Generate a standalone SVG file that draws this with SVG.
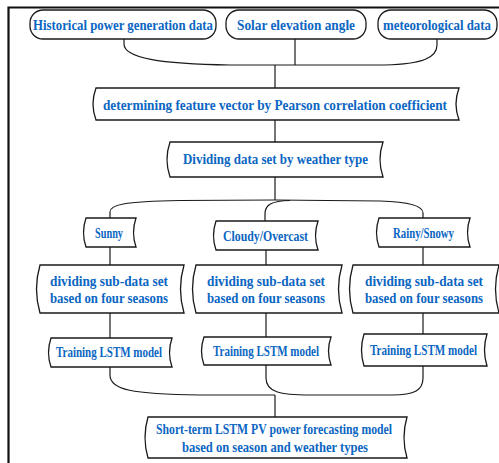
<svg xmlns="http://www.w3.org/2000/svg" width="499" height="463" viewBox="0 0 499 463">
  <style>
    .box { fill: #ffffff; stroke: #1a1a1a; stroke-width: 1.3; }
    .link { fill: none; stroke: #1a1a1a; stroke-width: 1.2; }
    .frame { fill: none; stroke: #111111; stroke-width: 2.2; }
    .lbl { font-family: "Liberation Serif", "DejaVu Serif", serif; font-weight: bold; font-size: 14px; fill: #0b66c2; text-anchor: middle; }
  </style>
  <rect x="0" y="0" width="499" height="463" fill="#ffffff"/>

  <!-- outer frame (top and left edges) -->
  <path class="frame" d="M8.5,463 L8.5,7.5 L499,7.5"/>

  <!-- connectors -->
  <g id="connectors">
    <path class="link" d="M124,39 L124,44 C124,58 160,64 230,65 L295,65"/>
    <path class="link" d="M295,39 L295,65"/>
    <path class="link" d="M437,39 L437,45 C437,58 422,64 385,65 L295,65"/>
    <path class="link" d="M275,65 L275,88"/>
    <path class="link" d="M275,120 L275,142"/>
    <path class="link" d="M275,177 L275,200"/>
    <path class="link" d="M275,200 L180,200.5 C122,201.5 110,205 110,212 L110,218"/>
    <path class="link" d="M265,221 L265,214 C265,205 271,201 290,200.5"/>
    <path class="link" d="M275,200 L380,201 C414,202 423,207 423,213 L423,218"/>
    <path class="link" d="M110,247 L110,265"/>
    <path class="link" d="M110,313 L110,338"/>
    <path class="link" d="M266,250 L266,265"/>
    <path class="link" d="M266,313 L266,337"/>
    <path class="link" d="M423,247 L423,265"/>
    <path class="link" d="M423,313 L423,334"/>
    <path class="link" d="M110,367 L110,375 C110,390 132,394 200,395 L275,395"/>
    <path class="link" d="M266,365 L266,378 C266,392 280,395 310,395 L392,395 C415,395 423,390 423,378 L423,366"/>
    <path class="link" d="M275,395 L275,417"/>
  </g>

  <!-- input data sources -->
  <g id="historical">
    <rect class="box" x="30" y="10" width="186" height="29" rx="13" ry="13"/>
    <text class="lbl" x="123" y="30" textLength="180" lengthAdjust="spacingAndGlyphs">Historical power generation data</text>
  </g>
  <g id="solar">
    <rect class="box" x="226" y="10" width="140" height="29" rx="13" ry="13"/>
    <text class="lbl" x="296" y="30" textLength="118" lengthAdjust="spacingAndGlyphs">Solar elevation angle</text>
  </g>
  <g id="meteo">
    <rect class="box" x="378" y="10" width="119" height="29" rx="13" ry="13"/>
    <text class="lbl" x="437" y="30" textLength="108" lengthAdjust="spacingAndGlyphs">meteorological data</text>
  </g>

  <!-- processing steps (stored-data shapes) -->
  <g id="pearson">
    <path class="box" d="M96,88 L459,88 Q453,104 459,120 L96,120 Q90,104 96,88 Z"/>
    <text class="lbl" x="275" y="110" textLength="344" lengthAdjust="spacingAndGlyphs">determining feature vector by Pearson correlation coefficient</text>
  </g>
  <g id="weather-split">
    <path class="box" d="M170,142 L383,142 Q377,159.5 383,177 L170,177 Q164,159.5 170,142 Z"/>
    <text class="lbl" x="275.5" y="164" textLength="185" lengthAdjust="spacingAndGlyphs">Dividing data set by weather type</text>
  </g>

  <g id="sunny">
    <path class="box" d="M86,218 L136,218 Q131,232.5 136,247 L86,247 Q81,232.5 86,218 Z"/>
    <text class="lbl" x="109" y="238" textLength="28" lengthAdjust="spacingAndGlyphs">Sunny</text>
  </g>
  <g id="cloudy">
    <path class="box" d="M216,221 L318,221 Q313,235.5 318,250 L216,250 Q211,235.5 216,221 Z"/>
    <text class="lbl" x="265.5" y="241" textLength="85" lengthAdjust="spacingAndGlyphs">Cloudy/Overcast</text>
  </g>
  <g id="rainy">
    <path class="box" d="M379,218 L470,218 Q465,232.5 470,247 L379,247 Q374,232.5 379,218 Z"/>
    <text class="lbl" x="423.5" y="238" textLength="61" lengthAdjust="spacingAndGlyphs">Rainy/Snowy</text>
  </g>

  <g id="season-sunny">
    <path class="box" d="M40,265 L184,265 Q177,289 184,313 L40,313 Q33,289 40,265 Z"/>
    <text class="lbl" x="109" y="286" textLength="118" lengthAdjust="spacingAndGlyphs">dividing sub-data set</text>
    <text class="lbl" x="109" y="303" textLength="118" lengthAdjust="spacingAndGlyphs">based on four seasons</text>
  </g>
  <g id="season-cloudy">
    <path class="box" d="M196,265 L342,265 Q335,289 342,313 L196,313 Q189,289 196,265 Z"/>
    <text class="lbl" x="266" y="286" textLength="118" lengthAdjust="spacingAndGlyphs">dividing sub-data set</text>
    <text class="lbl" x="266" y="303" textLength="118" lengthAdjust="spacingAndGlyphs">based on four seasons</text>
  </g>
  <g id="season-rainy">
    <path class="box" d="M353,265 L499,265 Q492,289 499,313 L353,313 Q346,289 353,265 Z"/>
    <text class="lbl" x="424" y="286" textLength="118" lengthAdjust="spacingAndGlyphs">dividing sub-data set</text>
    <text class="lbl" x="424" y="303" textLength="118" lengthAdjust="spacingAndGlyphs">based on four seasons</text>
  </g>

  <g id="train-sunny">
    <path class="box" d="M51,338 L172,338 Q167,352.5 172,367 L51,367 Q46,352.5 51,338 Z"/>
    <text class="lbl" x="109" y="357" textLength="106" lengthAdjust="spacingAndGlyphs">Training LSTM model</text>
  </g>
  <g id="train-cloudy">
    <path class="box" d="M204,337 L331,337 Q326,351 331,365 L204,365 Q199,351 204,337 Z"/>
    <text class="lbl" x="266" y="356" textLength="106" lengthAdjust="spacingAndGlyphs">Training LSTM model</text>
  </g>
  <g id="train-rainy">
    <path class="box" d="M364,334 L487,334 Q482,350 487,366 L364,366 Q359,350 364,334 Z"/>
    <text class="lbl" x="423.5" y="355" textLength="107" lengthAdjust="spacingAndGlyphs">Training LSTM model</text>
  </g>

  <!-- final model -->
  <g id="forecast-model">
    <path class="box" d="M148,417 L407,417 Q401,437.5 407,458 L148,458 Q142,437.5 148,417 Z"/>
    <text class="lbl" x="274" y="434" textLength="236" lengthAdjust="spacingAndGlyphs">Short-term LSTM PV power forecasting model</text>
    <text class="lbl" x="275" y="452" textLength="186" lengthAdjust="spacingAndGlyphs">based on season and weather types</text>
  </g>
</svg>
